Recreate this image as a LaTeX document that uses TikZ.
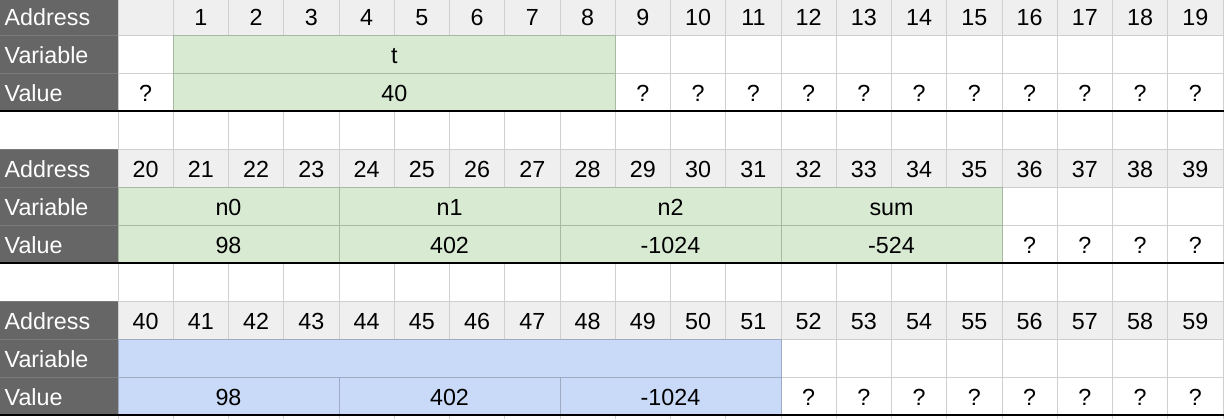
\documentclass[tikz,border=0pt]{standalone}
\usepackage{fontspec}
\setmainfont{Liberation Sans}
\definecolor{labelbg}{HTML}{666666}
\definecolor{labelline}{HTML}{7A7A7A}
\definecolor{addrbg}{HTML}{EFEFEF}
\definecolor{gridc}{HTML}{CFCFCF}
\definecolor{varg}{HTML}{D9EAD3}
\definecolor{varb}{HTML}{C9DAF8}
\newcommand\cellspan[7]{%
  \draw[line width=0.8pt, draw=#5, fill=#4] ({118+(#2)*55.25},#1) rectangle ({118+(#3)*55.25},#1+38);
  \node[txt] (#6) at ({118+((#2)+(#3))*27.625},#1+28) {#7};}
\begin{document}
\begin{tikzpicture}[x=1pt,y=-1pt,
  txt/.style={anchor=base, inner sep=0pt, font=\fontsize{23.3}{27}\selectfont, text=black},
  lbl/.style={anchor=base west, inner sep=0pt, font=\fontsize{23.3}{27}\selectfont, text=white},
  lblcell/.style={fill=labelbg, draw=labelline, line width=0.8pt}]
\fill[white] (0,0) rectangle (1226,418);
\useasboundingbox (0,0) rectangle (1226,418);
\clip (0,0) rectangle (1226,418);
% blank rows
\foreach \b in {0,1,2}{
  \foreach \c in {0,...,19}{
    \draw[line width=0.8pt, draw=gridc] ({118+\c*55.25},{152*\b+111}) rectangle +(55.25,38);
  }
}
% label column
\foreach \b in {0,1,2}{
  \draw[lblcell] (-1,{152*\b-3}) rectangle (118,{152*\b+35});
  \draw[lblcell] (-1,{152*\b+35}) rectangle (118,{152*\b+73});
  \draw[lblcell] (-1,{152*\b+73}) rectangle (118,{152*\b+111});
  \node[lbl] (la\b) at (4.5,{152*\b+25}) {Address};
  \node[lbl] (lv\b) at (4.5,{152*\b+63}) {Variable};
  \node[lbl] (lw\b) at (4.5,{152*\b+101}) {Value};
}
% address rows
\foreach \b in {0,1,2}{
  \foreach \c in {0,...,19}{
    \pgfmathtruncatemacro\n{20*\b+\c}
    \draw[line width=0.8pt, draw=gridc, fill=addrbg] ({118+\c*55.25},{152*\b-3}) rectangle +(55.25,38);
    \node[txt] (a\n) at ({118+\c*55.25+27.625},{152*\b+25}) {\ifnum\n=0 \else\n\fi};
  }
}
% block 0
\cellspan{35}{0}{1}{white}{gridc}{v0-0}{}
\cellspan{73}{0}{1}{white}{gridc}{w0-0}{?}
\foreach \c in {9,...,19}{
  \cellspan{35}{\c}{\c+1}{white}{gridc}{v0-\c}{}
  \cellspan{73}{\c}{\c+1}{white}{gridc}{w0-\c}{?}
}
\cellspan{35}{1}{9}{varg}{varg!78!black}{vt}{t}
\cellspan{73}{1}{9}{varg}{varg!78!black}{wt}{40}
% block 1
\foreach \c in {16,...,19}{
  \cellspan{187}{\c}{\c+1}{white}{gridc}{v1-\c}{}
  \cellspan{225}{\c}{\c+1}{white}{gridc}{w1-\c}{?}
}
\cellspan{187}{0}{4}{varg}{varg!78!black}{vn0}{n0}
\cellspan{187}{4}{8}{varg}{varg!78!black}{vn1}{n1}
\cellspan{187}{8}{12}{varg}{varg!78!black}{vn2}{n2}
\cellspan{187}{12}{16}{varg}{varg!78!black}{vsum}{sum}
\cellspan{225}{0}{4}{varg}{varg!78!black}{wn0}{98}
\cellspan{225}{4}{8}{varg}{varg!78!black}{wn1}{402}
\cellspan{225}{8}{12}{varg}{varg!78!black}{wn2}{-1024}
\cellspan{225}{12}{16}{varg}{varg!78!black}{wsum}{-524}
% block 2
\foreach \c in {12,...,19}{
  \cellspan{339}{\c}{\c+1}{white}{gridc}{v2-\c}{}
  \cellspan{377}{\c}{\c+1}{white}{gridc}{w2-\c}{?}
}
\cellspan{339}{0}{12}{varb}{varb!78!black}{varr}{}
\cellspan{377}{0}{4}{varb}{varb!78!black}{wr0}{98}
\cellspan{377}{4}{8}{varb}{varb!78!black}{wr1}{402}
\cellspan{377}{8}{12}{varb}{varb!78!black}{wr2}{-1024}
% black separators
\foreach \yy in {111,263,415}{
  \draw[line width=1.6pt, black] (0,\yy) -- (1224,\yy);
}
\end{tikzpicture}
\end{document}
